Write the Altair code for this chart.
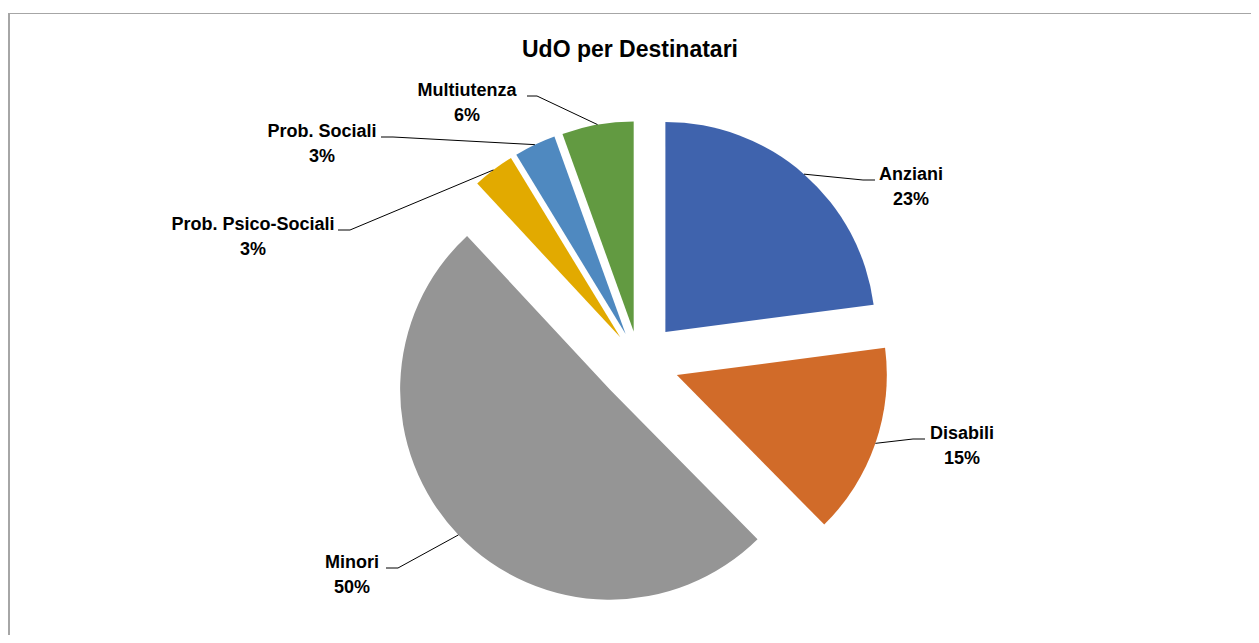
import altair as alt
import pandas as pd

# ---- data ----
categories = ["Anziani", "Disabili", "Minori", "Prob. Psico-Sociali", "Prob. Sociali", "Multiutenza"]
counts = [50, 32, 110, 7, 7, 12]
colors = ["#3F63AD", "#D16B29", "#959595", "#E2AA00", "#4F89C0", "#629A41"]
title_text = "UdO per Destinatari"

# ---- layout (pixels inside the view) ----
W, H = 1243, 627
CX, CY = 631, 354
R = 210
explode = [40, 40, 40, 31, 31, 31]
label_x = [903, 954, 344, 245, 314, 459]
label_y = [172, 431, 560, 222, 129, 88]
elbow_x = [855, 905, 390, 342, 385, 529]
end_x = [867, 917, 378, 330, 373, 519]

LABEL_FONT = "Liberation Sans, Arial, sans-serif"
TITLE_FONT = "Liberation Sans, Arial, sans-serif"

df = pd.DataFrame({
    "cat": categories,
    "n": counts,
    "order": list(range(len(categories))),
    "exo": explode,
    "lx": label_x,
    "ly": label_y,
    "elx": elbow_x,
    "enx": end_x,
})

base = (
    alt.Chart(df)
    .transform_window(cum="sum(n)", sort=[alt.SortField("order")], frame=[None, 0])
    .transform_joinaggregate(total="sum(n)")
    .transform_calculate(pct="datum.n / datum.total")
    .transform_calculate(t0="2*PI*(datum.cum - datum.n)/datum.total")
    .transform_calculate(t1="2*PI*datum.cum/datum.total")
    .transform_calculate(mid="(datum.t0 + datum.t1)/2")
    .transform_calculate(ax=f"{CX} + datum.exo*sin(datum.mid)")
    .transform_calculate(ay=f"{CY} - datum.exo*cos(datum.mid)")
    .transform_calculate(sx=f"datum.ax + {R}*sin(datum.mid)")
    .transform_calculate(sy=f"datum.ay - {R}*cos(datum.mid)")
    .transform_calculate(label="datum.cat + '\\n' + format(datum.pct, '.0%')")
)

pie = base.mark_arc(outerRadius=R, innerRadius=0).encode(
    x=alt.X("ax:Q", scale=None),
    y=alt.Y("ay:Q", scale=None),
    theta=alt.Theta("t0:Q", scale=None, stack=None),
    theta2=alt.Theta2("t1:Q"),
    color=alt.Color("cat:N", scale=alt.Scale(domain=categories, range=colors), legend=None),
)

leader1 = base.mark_rule(color="#000000", strokeWidth=1).encode(
    x=alt.X("sx:Q", scale=None),
    y=alt.Y("sy:Q", scale=None),
    x2=alt.X2("elx:Q"),
    y2=alt.Y2("ly:Q"),
)

leader2 = base.mark_rule(color="#000000", strokeWidth=1).encode(
    x=alt.X("elx:Q", scale=None),
    y=alt.Y("ly:Q", scale=None),
    x2=alt.X2("enx:Q"),
    y2=alt.Y2("ly:Q"),
)

labels = base.mark_text(
    font=LABEL_FONT, fontSize=18, fontWeight="bold", color="#000000",
    align="center", baseline="alphabetic", lineBreak="\n", lineHeight=25,
).encode(
    x=alt.X("lx:Q", scale=None),
    y=alt.Y("ly:Q", scale=None),
    text="label:N",
)

one = alt.Data(values=[{}])

title = alt.Chart(one).mark_text(
    text=title_text, font=TITLE_FONT, fontSize=23, fontWeight="bold",
    color="#000000", align="center", baseline="alphabetic",
).encode(x=alt.value(622), y=alt.value(49))

border_top = alt.Chart(one).mark_rule(color="#A6A6A6", strokeWidth=1).encode(
    x=alt.value(0), x2=alt.value(W), y=alt.value(5.5), y2=alt.value(5.5)
)
border_left = alt.Chart(one).mark_rule(color="#A6A6A6", strokeWidth=2).encode(
    x=alt.value(1), x2=alt.value(1), y=alt.value(5), y2=alt.value(H)
)

chart = (
    alt.layer(border_top, border_left, pie, leader1, leader2, labels, title)
    .properties(width=W, height=H, padding=0, autosize=alt.AutoSizeParams(type="none"),
                background="white")
    .configure_view(stroke=None)
)

chart.save("out.html", embed_options={"renderer": "svg", "actions": False})
